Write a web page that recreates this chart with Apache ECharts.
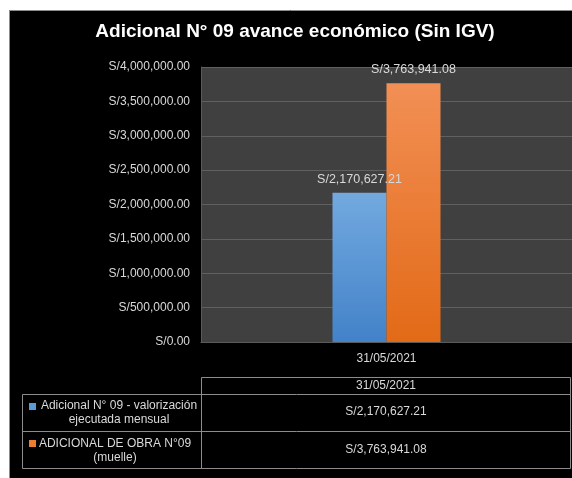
<!DOCTYPE html>
<html>
<head>
<meta charset="utf-8">
<style>html,body{margin:0;padding:0;background:#fff;}#c{width:572px;height:478px;}</style>
<script src="https://cdn.jsdelivr.net/npm/echarts@6/dist/echarts.min.js"></script>
</head>
<body>
<div id="c"></div>
<script>
var titleText = 'Adicional N° 09 avance económico (Sin IGV)';
var categories = ['31/05/2021'];
var seriesNames = ['Adicional N° 09 - valorización\nejecutada mensual', 'ADICIONAL DE OBRA N°09\n(muelle)'];
var valorizacion = [2170627.21];
var adicionalObra = [3763941.08];
var yTicks = [0, 500000, 1000000, 1500000, 2000000, 2500000, 3000000, 3500000, 4000000];

function money(v) {
  return 'S/' + Number(v).toLocaleString('en-US', {minimumFractionDigits: 2, maximumFractionDigits: 2});
}

var FONT = 'Liberation Sans';
var TXT = '#d9d9d9';
var LINE = '#8c8c8c';

var chart = echarts.init(document.getElementById('c'), null, {renderer: 'canvas'});

var blueGrad = new echarts.graphic.LinearGradient(0, 0, 0, 1, [{offset: 0, color: '#72a9df'}, {offset: 1, color: '#4382c9'}]);
var orangeGrad = new echarts.graphic.LinearGradient(0, 0, 0, 1, [{offset: 0, color: '#f28f55'}, {offset: 1, color: '#e26a17'}]);

function hline(x1, x2, y) { return {type: 'line', shape: {x1: x1, y1: y, x2: x2, y2: y}, style: {stroke: LINE, lineWidth: 1}}; }
function vline(x, y1, y2) { return {type: 'line', shape: {x1: x, y1: y1, x2: x, y2: y2}, style: {stroke: LINE, lineWidth: 1}}; }
function txt(x, y, s, align) { return {type: 'text', x: x, y: y, style: {text: s, fill: TXT, font: '12px "' + FONT + '"', align: align || 'center', verticalAlign: 'middle', lineHeight: 14}}; }

var tableEls = [
  hline(201.5, 570.5, 377.5), hline(22.5, 570.5, 394.5), hline(22.5, 570.5, 431.5), hline(22.5, 570.5, 468.5),
  vline(201.5, 377.5, 468.5), vline(570.5, 377.5, 468.5), vline(22.5, 394.5, 468.5),
  txt(386, 386, categories[0]),
  {type: 'rect', shape: {x: 29, y: 403, width: 7, height: 7}, style: {fill: '#5b9bd5'}},
  {type: 'rect', shape: {x: 29, y: 440, width: 7, height: 7}, style: {fill: '#ed7d31'}},
  txt(119, 413, seriesNames[0]),
  txt(115, 450.5, seriesNames[1]),
  txt(386, 412, money(valorizacion[0])),
  txt(386, 450, money(adicionalObra[0]))
];

var option = {
  backgroundColor: '#000',
  animation: false,
  title: {
    text: titleText, left: 290, top: 17, textAlign: 'center',
    textStyle: {color: '#fff', fontFamily: FONT, fontWeight: 'bold', fontSize: 19}
  },
  grid: {left: 201, right: 0, top: 67, bottom: 136, show: true, backgroundColor: '#404040', borderWidth: 0},
  xAxis: {
    type: 'category', data: categories,
    axisLine: {show: true, lineStyle: {color: '#5a5a5a'}}, axisTick: {show: false},
    axisLabel: {color: TXT, fontFamily: FONT, fontSize: 12, margin: 11}
  },
  yAxis: {
    type: 'value', min: 0, max: 4000000, interval: 500000,
    axisLine: {show: true, lineStyle: {color: '#5a5a5a'}}, axisTick: {show: false},
    splitLine: {lineStyle: {color: '#606060', width: 1}},
    axisLabel: {color: TXT, fontFamily: FONT, fontSize: 12, margin: 11, formatter: function (v) { return money(v); }}
  },
  series: [
    {name: seriesNames[0], type: 'bar', data: valorizacion, barWidth: 54, barGap: '0%',
     itemStyle: {color: blueGrad},
     label: {show: true, position: 'top', distance: 7, color: TXT, fontFamily: FONT, fontSize: 12.5, formatter: function (p) { return money(p.value); }}},
    {name: seriesNames[1], type: 'bar', data: adicionalObra, barWidth: 54,
     itemStyle: {color: orangeGrad},
     label: {show: true, position: 'top', distance: 7, color: TXT, fontFamily: FONT, fontSize: 12.5, formatter: function (p) { return money(p.value); }}}
  ],
  graphic: {elements: [
    {type: 'rect', shape: {x: 0, y: 0, width: 572, height: 10}, style: {fill: '#fff'}},
    {type: 'rect', shape: {x: 0, y: 0, width: 9, height: 478}, style: {fill: '#fff'}},
    hline(9, 572, 10.5), vline(9.5, 10, 478)
  ].concat(tableEls)}
};
chart.setOption(option);
</script>
</body>
</html>
